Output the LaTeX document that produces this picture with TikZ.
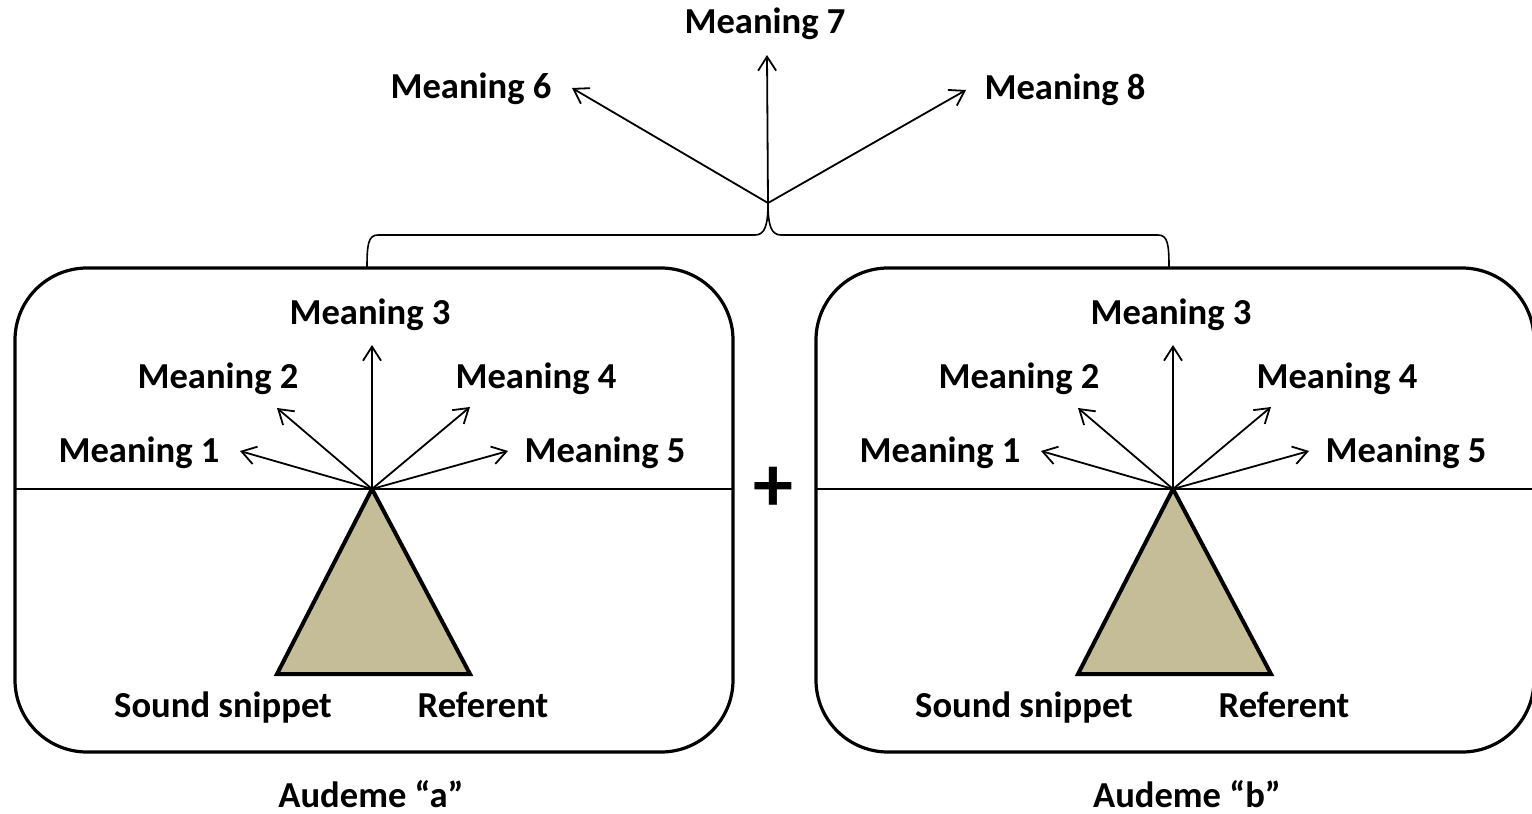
\documentclass[tikz,border=0pt]{standalone}
\usepackage{fontspec}
\setmainfont{Carlito}
\usetikzlibrary{arrows.meta}
\definecolor{tan}{HTML}{C4BD97}
\tikzset{
  lbl/.style={font=\fontsize{18.3}{22}\selectfont\bfseries, inner sep=0pt, anchor=base},
  panel/.style={draw, line width=1.6pt, rounded corners=36pt},
  divider/.style={line width=0.8pt},
  ray/.style={line width=0.9pt, -{Straight Barb[length=7pt,width=9pt,line width=0.9pt]}},
  tri/.style={draw, fill=tan, line width=2pt, line join=miter},
  bracket/.style={line width=0.8pt},
}
\begin{document}
\begin{tikzpicture}[x=0.5pt, y=-0.5pt]
\useasboundingbox (0,0) rectangle (1532,814);

% two audeme panels, each with a sign triangle and a fan of meanings
\foreach \dx/\tag in {0/a, 801/b}{
  \begin{scope}[xshift=\dx*0.5pt]
    \draw[panel] (15,268) rectangle (733,752);
    \draw[divider] (15,489) -- (733,489);
    \coordinate (apex\tag) at (372,489);
    \draw[tri] (apex\tag) -- (277,674) -- (470,674) -- cycle;
    \coordinate (t1\tag) at (240,451);
    \coordinate (t2\tag) at (277,408);
    \coordinate (t3\tag) at (372,345);
    \coordinate (t4\tag) at (470,407);
    \coordinate (t5\tag) at (508,451);
    \foreach \k in {1,...,5}{ \draw[ray] (apex\tag) -- (t\k\tag); }
    \node[lbl] (m1\tag) at (139,462) {Meaning 1};
    \node[lbl] (m2\tag) at (218,388) {Meaning 2};
    \node[lbl] (m3\tag) at (370,324) {Meaning 3};
    \node[lbl] (m4\tag) at (536,388) {Meaning 4};
    \node[lbl] (m5\tag) at (605,462) {Meaning 5};
    \node[lbl] (snd\tag) at (223,717) {Sound snippet};
    \node[lbl] (ref\tag) at (483,717) {Referent};
  \end{scope}
}
\node[lbl, text depth=0pt] (auda) at (371,807) {Audeme “a”};
\node[lbl, text depth=0pt] (audb) at (1187,807) {Audeme “b”};

% combination sign between the panels
\node[font=\fontsize{40}{40}\selectfont\bfseries, inner sep=0pt] (plus) at (773,489) {+};

% bracket joining both panels
\coordinate (joint) at (768,203);
\draw[bracket] (367,268) .. controls (367,245) and (368,235) .. (378,235)
  -- (755,235) .. controls (765,235) and (768,225) .. (joint);
\draw[bracket] (1169,268) .. controls (1169,245) and (1168,235) .. (1158,235)
  -- (781,235) .. controls (771,235) and (768,225) .. (joint);

% meanings of the combined audemes
\coordinate (t6) at (572,88);
\coordinate (t7) at (767,55);
\coordinate (t8) at (966,90);
\draw[ray] (joint) -- (t6);
\draw[ray] (joint) -- (t7);
\draw[ray] (joint) -- (t8);
\node[lbl] (m6) at (471,98) {Meaning 6};
\node[lbl] (m7) at (765,33) {Meaning 7};
\node[lbl] (m8) at (1065,99) {Meaning 8};
\end{tikzpicture}
\end{document}
